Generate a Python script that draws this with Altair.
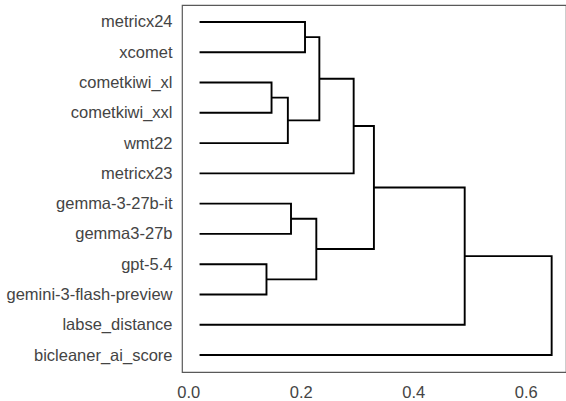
import json
import altair as alt
import pandas as pd

# Leaves, top to bottom
leaves = ["metricx24", "xcomet", "cometkiwi_xl", "cometkiwi_xxl", "wmt22",
          "metricx23", "gemma-3-27b-it", "gemma3-27b", "gpt-5.4",
          "gemini-3-flash-preview", "labse_distance", "bicleaner_ai_score"]
leaf_height = 0.02

# Merges: new node id = 12, 13, ... (children refer to leaf index or node id)
merge_left = [8, 2, 13, 6, 0, 15, 16, 18, 19, 20, 21]
merge_right = [9, 3, 4, 7, 1, 12, 14, 5, 17, 10, 11]
merge_height = [0.139, 0.148, 0.177, 0.1826, 0.2075, 0.2276, 0.233, 0.294,
                0.330, 0.4914, 0.646]

tick_values = [0.0, 0.2, 0.4, 0.6]

# build dendrogram polylines
n = len(leaves)
pos = {i: i * 10 + 5 for i in range(n)}
hgt = {i: leaf_height for i in range(n)}
rows = []
for k, (a, b, h) in enumerate(zip(merge_left, merge_right, merge_height)):
    node = n + k
    pts = [(hgt[a], pos[a]), (h, pos[a]), (h, pos[b]), (hgt[b], pos[b])]
    for j, (xv, yv) in enumerate(pts):
        rows.append({"link": k, "order": j, "x": xv, "y": yv})
    pos[node] = (pos[a] + pos[b]) / 2
    hgt[node] = h
df = pd.DataFrame(rows)

label_expr = json.dumps(leaves) + "[round((datum.value - 5) / 10)]"

FONT = "Liberation Sans"
chart = alt.Chart(df).mark_line(color="black", strokeWidth=1.9, strokeJoin="miter").encode(
    x=alt.X("x:Q", scale=alt.Scale(domain=[-0.0112, 0.6715], nice=False, zero=False),
            axis=alt.Axis(values=tick_values, format=".1f", title=None, labelPadding=12)),
    y=alt.Y("y:Q", scale=alt.Scale(domain=[-0.6, 120.6], nice=False, zero=False, reverse=True),
            axis=alt.Axis(values=[i * 10 + 5 for i in range(n)], labelExpr=label_expr,
                          title=None, labelPadding=10)),
    detail="link:N",
    order="order:Q",
).properties(
    width=384, height=367,
    autosize=alt.AutoSizeParams(type="none"),
    padding={"left": 182, "top": 5, "right": 0, "bottom": 29},
).configure_view(
    stroke="#595959", strokeWidth=1.2
).configure_axis(
    grid=False, ticks=False, domain=False,
    labelFont=FONT, labelFontSize=16.5, labelColor="#444444",
)

chart.save("out.html", embed_options={"renderer": "svg", "actions": False})
